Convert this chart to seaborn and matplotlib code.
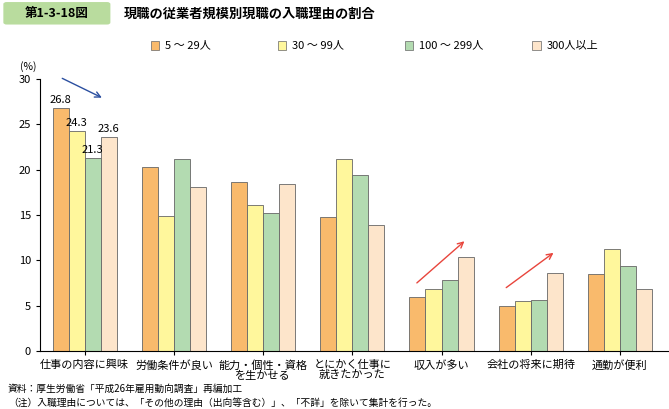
import matplotlib
matplotlib.use("Agg")
import matplotlib.pyplot as plt
import seaborn as sns
import pandas as pd
from matplotlib.patches import FancyBboxPatch

plt.rcParams["font.family"] = "Noto Sans CJK JP"

categories = ["仕事の内容に興味", "労働条件が良い", "能力・個性・資格\nを生かせる", "とにかく仕事に\n就きたかった",
              "収入が多い", "会社の将来に期待", "通勤が便利"]
series = ["5 ～ 29人", "30 ～ 99人", "100 ～ 299人", "300人以上"]
v5_29 = [26.8, 20.3, 18.6, 14.8, 6.0, 5.0, 8.5]
v30_99 = [24.3, 14.9, 16.1, 21.2, 6.8, 5.5, 11.2]
v100_299 = [21.3, 21.2, 15.2, 19.4, 7.8, 5.6, 9.4]
v300 = [23.6, 18.1, 18.4, 13.9, 10.4, 8.6, 6.8]
colors = ["#F9BA6C", "#FFF79C", "#B3DBB1", "#FDE5CB"]

rows = []
for s, vals in zip(series, [v5_29, v30_99, v100_299, v300]):
    for c, v in zip(categories, vals):
        rows.append({"cat": c, "series": s, "value": v})
df = pd.DataFrame(rows)

fig = plt.figure(figsize=(6.69, 4.09), dpi=100)
ax = fig.add_axes([0.06, 0.142, 0.94, 0.665])
sns.barplot(data=df, x="cat", y="value", hue="series", palette=colors, ax=ax, saturation=1,
            width=0.72, edgecolor="#666666", linewidth=0.6, legend=False)
ax.set_ylim(0, 30)
ax.set_xlim(-0.5, 6.55)
ax.set_yticks(range(0, 31, 5))
ax.set_xlabel(""); ax.set_ylabel("")
ax.tick_params(labelsize=8, length=3)
for lab in ax.get_xticklabels():
    lab.set_linespacing(1.0)
for sp in ["top", "right"]:
    ax.spines[sp].set_visible(False)
fig.text(0.03, 0.83, "(%)", fontsize=7.5)
for i, (lab, v) in enumerate(zip(["26.8", "24.3", "21.3", "23.6"], [v5_29[0], v30_99[0], v100_299[0], v300[0]])):
    ax.text(-0.27 + i * 0.18, v + 0.3, lab, ha="center", va="bottom", fontsize=8)

ax.annotate("", xy=(0.22, 27.8), xytext=(-0.28, 30.2),
            arrowprops=dict(arrowstyle="->", color="#2B4FA0", lw=1.0), annotation_clip=False)
for x0, y0, x1, y1 in [(3.7, 7.3, 4.28, 12.3), (4.7, 6.8, 5.28, 11.0)]:
    ax.annotate("", xy=(x1, y1), xytext=(x0, y0),
                arrowprops=dict(arrowstyle="->", color="#E8453C", lw=1.0))

for i, (s, c) in enumerate(zip(series, colors)):
    x = 0.225 + i * 0.19
    fig.patches.append(plt.Rectangle((x, 0.878), 0.013, 0.022, transform=fig.transFigure,
                                     facecolor=c, edgecolor="#666666", lw=0.5))
    fig.text(x + 0.022, 0.889, s, fontsize=8, va="center")

fig.patches.append(FancyBboxPatch((0.01, 0.945), 0.15, 0.045, boxstyle="round,pad=0.005",
                                  transform=fig.transFigure, facecolor="#B9DC9E", edgecolor="none"))
fig.text(0.085, 0.966, "第1-3-18図", fontsize=9, ha="center", va="center", weight="bold")
fig.text(0.185, 0.966, "現職の従業者規模別現職の入職理由の割合", fontsize=9.5, va="center", weight="bold")
fig.text(0.012, 0.042, "資料：厚生労働省「平成26年雇用動向調査」再編加工", fontsize=7)
fig.text(0.012, 0.008, "（注）入職理由については、「その他の理由（出向等含む）」、「不詳」を除いて集計を行った。", fontsize=7)
fig.savefig("out.png", dpi=100)
